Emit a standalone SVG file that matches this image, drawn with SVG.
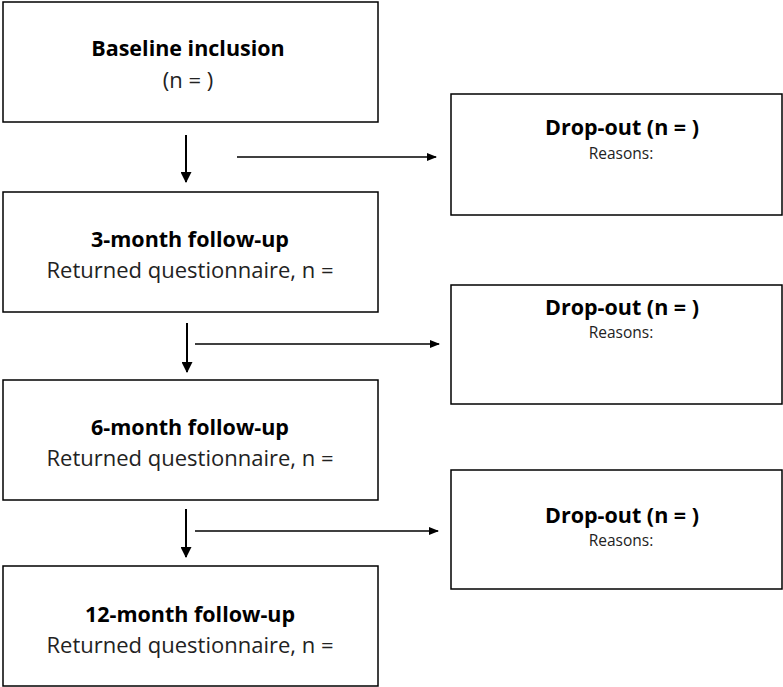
<svg xmlns="http://www.w3.org/2000/svg" width="783" height="687" viewBox="0 0 783 687">
<style>
.box{fill:#fff;stroke:#000;stroke-width:1.5}
.t{font-family:"Open Sans","Noto Sans","Liberation Sans",sans-serif;text-anchor:middle;fill:#000}
.b{font-weight:bold;font-size:21.5px}
.r{font-size:22px;fill:#222}
.s{font-size:15.5px;fill:#222}
.c{stroke:#000;stroke-width:1.3;fill:none}
.cd{stroke:#000;stroke-width:2;fill:none}
</style>
<defs>
<marker id="ah" markerWidth="10" markerHeight="8" refX="9" refY="4" orient="auto" markerUnits="userSpaceOnUse">
<path d="M0,0 L10,4 L0,8 Z" fill="#000"/>
</marker>
<marker id="ahd" markerWidth="11" markerHeight="11" refX="10" refY="5.5" orient="auto" markerUnits="userSpaceOnUse">
<path d="M0,0 L11,5.5 L0,11 Z" fill="#000"/>
</marker>
</defs>
<g id="baseline">
<rect class="box" x="3" y="2" width="375" height="120"/>
<text class="t b" x="188" y="56">Baseline inclusion</text>
<text class="t r" x="188" y="88">(n = )</text>
</g>
<g id="m3">
<rect class="box" x="3" y="192" width="375" height="120"/>
<text class="t b" x="190" y="247">3-month follow-up</text>
<text class="t r" x="190" y="278">Returned questionnaire, n =</text>
</g>
<g id="m6">
<rect class="box" x="3" y="380" width="375" height="120"/>
<text class="t b" x="190" y="435">6-month follow-up</text>
<text class="t r" x="190" y="466">Returned questionnaire, n =</text>
</g>
<g id="m12">
<rect class="box" x="3" y="566" width="375" height="120"/>
<text class="t b" x="190" y="622">12-month follow-up</text>
<text class="t r" x="190" y="653">Returned questionnaire, n =</text>
</g>
<g id="drop1">
<rect class="box" x="451" y="94" width="331" height="121"/>
<text class="t b" x="622" y="135">Drop-out (n = )</text>
<text class="t s" x="621" y="159">Reasons:</text>
</g>
<g id="drop2">
<rect class="box" x="451" y="285" width="331" height="119"/>
<text class="t b" x="622" y="315">Drop-out (n = )</text>
<text class="t s" x="621" y="338">Reasons:</text>
</g>
<g id="drop3">
<rect class="box" x="451" y="470" width="331" height="119"/>
<text class="t b" x="622" y="523">Drop-out (n = )</text>
<text class="t s" x="621" y="546">Reasons:</text>
</g>
<g id="connectors">
<line class="cd" x1="186" y1="135" x2="186" y2="182" marker-end="url(#ahd)"/>
<line class="c" x1="237" y1="157" x2="436" y2="157" marker-end="url(#ah)"/>
<line class="cd" x1="187" y1="323" x2="187" y2="372" marker-end="url(#ahd)"/>
<line class="c" x1="195" y1="344" x2="439" y2="344" marker-end="url(#ah)"/>
<line class="cd" x1="186" y1="509" x2="186" y2="557" marker-end="url(#ahd)"/>
<line class="c" x1="195" y1="531" x2="438" y2="531" marker-end="url(#ah)"/>
</g>
</svg>
